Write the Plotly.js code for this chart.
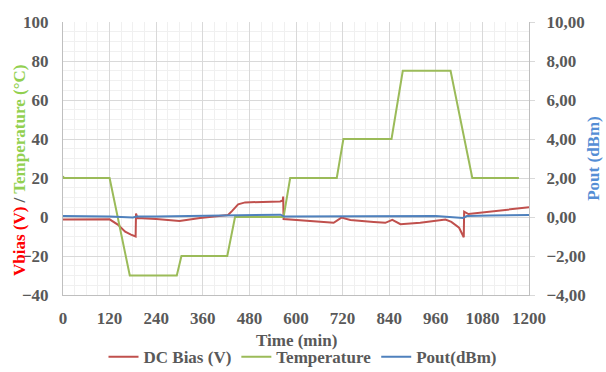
<!DOCTYPE html>
<html>
<head>
<meta charset="utf-8">
<script src="https://cdn.plot.ly/plotly-3.0.1.min.js"></script>
<style>html,body{margin:0;padding:0;background:#fff;}#chart{width:606px;height:372px;}</style>
</head>
<body>
<div id="chart"></div>
<script>
// Temperature (°C), left axis
const tempTime = [0, 2, 120, 172, 293, 305, 423, 443, 568, 585, 705, 722, 846, 875, 998, 1054, 1174];
const tempVal  = [21, 20, 20, -30, -30, -20, -20, 0, 0, 20, 20, 40, 40, 75, 75, 20, 20];

// DC Bias (V), left axis
const biasTime = [0, 60, 120, 142, 160, 175, 187, 188, 192, 240, 300, 353, 425, 435, 451, 469, 520, 559, 566, 567, 568, 600, 660, 697, 717, 740, 800, 830, 848, 869, 920, 985, 1000, 1020, 1032, 1033, 1044, 1100, 1200];
const biasVal  = [-1.3, -1.3, -1.2, -4, -7.5, -9, -10, 1.8, -0.5, -1, -2, -0.5, 1, 3, 6.5, 7.5, 7.8, 8, 8.5, 10.5, -1, -1.5, -2.5, -3, -0.3, -1.5, -2.5, -3, -1.5, -3.7, -3, -1.3, -2.5, -5.5, -10.4, 2.7, 1.5, 2.8, 5];

// Pout (dBm), right axis
const poutTime = [0, 60, 120, 180, 190, 240, 300, 360, 420, 480, 560, 570, 660, 720, 840, 960, 1030, 1040, 1100, 1200];
const poutVal  = [0.05, 0.05, 0.03, -0.03, 0.02, 0.03, 0.05, 0.08, 0.1, 0.12, 0.12, 0.02, 0.02, 0.03, 0.03, 0.05, -0.05, 0.05, 0.08, 0.1];

const xTicks = [0, 120, 240, 360, 480, 600, 720, 840, 960, 1080, 1200];

const FONT = '"Liberation Serif", "Times New Roman", serif';
const TICKC = '#595959';
const FS = 17;

const traces = [
  {x: biasTime, y: biasVal, name: 'DC Bias (V)', type: 'scatter', mode: 'lines',
   line: {color: '#C0504D', width: 2}, yaxis: 'y'},
  {x: tempTime, y: tempVal, name: 'Temperature', type: 'scatter', mode: 'lines',
   line: {color: '#9BBB59', width: 2}, yaxis: 'y'},
  {x: poutTime, y: poutVal, name: 'Pout(dBm)', type: 'scatter', mode: 'lines',
   line: {color: '#4F81BD', width: 2}, yaxis: 'y2'}
];

const layout = {
  width: 606, height: 372,
  margin: {l: 63, r: 77, t: 22, b: 77},
  paper_bgcolor: '#fff', plot_bgcolor: '#fff',
  separators: ',.',
  font: {family: FONT, size: FS, color: TICKC, weight: 'bold'},
  showlegend: true,
  legend: {orientation: 'h', x: 0.5, xref: 'container', xanchor: 'center', y: 0.04, yref: 'container', yanchor: 'middle',
           font: {family: FONT, size: FS, color: TICKC, weight: 'bold'}, itemwidth: 30, tracegroupgap: 0},
  xaxis: {
    range: [0, 1200], tickvals: xTicks, ticks: '', showline: true, linecolor: '#BFBFBF', linewidth: 1,
    gridcolor: '#D9D9D9', zeroline: false,
    minor: {dtick: 30, showgrid: true, gridcolor: '#F0F0F0', ticks: ''},
    tickfont: {family: FONT, size: FS, color: TICKC, weight: 'bold'},
    ticklabelstandoff: 8
  },
  yaxis: {
    range: [-40, 100], dtick: 20, ticks: '', showline: true, linecolor: '#BFBFBF', linewidth: 1,
    gridcolor: '#D9D9D9', zeroline: false,
    minor: {dtick: 5, showgrid: true, gridcolor: '#F0F0F0', ticks: ''},
    tickfont: {family: FONT, size: FS, color: TICKC, weight: 'bold'},
    ticklabelstandoff: 10
  },
  yaxis2: {
    range: [-4, 10], dtick: 2, overlaying: 'y', side: 'right', tickformat: '.2f',
    ticks: 'outside', ticklen: 5, tickcolor: '#D9D9D9', showline: true, linecolor: '#BFBFBF',
    showgrid: false, zeroline: false,
    tickfont: {family: FONT, size: FS, color: TICKC, weight: 'bold'},
    ticklabelstandoff: 8,
    title: {text: 'Pout (dBm)', font: {family: FONT, size: FS, color: '#558ED5', weight: 'bold'}, standoff: 2}
  },
  annotations: [
    {text: 'Time (min)', xref: 'paper', yref: 'paper', x: 0.5, y: -0.165,
     xanchor: 'center', yanchor: 'middle', showarrow: false,
     font: {family: FONT, size: FS, color: TICKC, weight: 'bold'}},
    {text: '<span style="color:#FF0000">Vbias (V)</span> / <span style="color:#92D050">Temperature (°C)</span>',
     xref: 'paper', yref: 'paper', x: 0, xshift: -44, y: 0.454, textangle: -90,
     xanchor: 'center', yanchor: 'middle', showarrow: false,
     font: {family: FONT, size: FS, color: TICKC, weight: 'bold'}}
  ]
};

Plotly.newPlot('chart', traces, layout, {displayModeBar: false, staticPlot: true});
</script>
</body>
</html>
